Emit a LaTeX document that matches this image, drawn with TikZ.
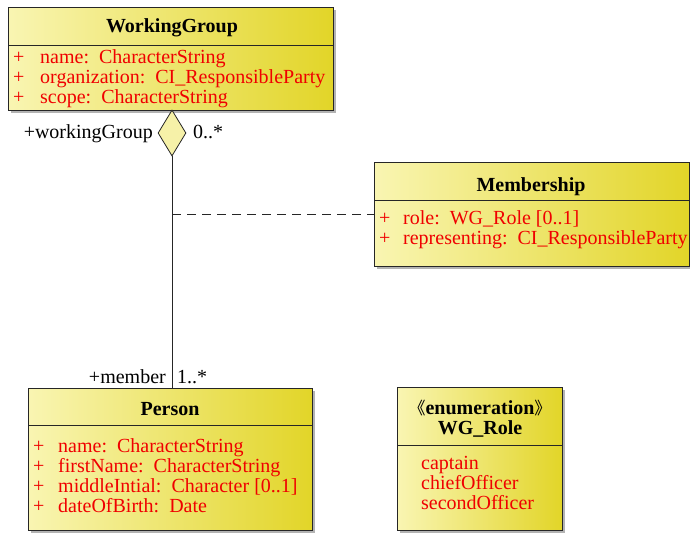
\documentclass[tikz,border=0pt]{standalone}
\usepackage{fontspec}
\setmainfont{Liberation Serif}
\newfontfamily\cjkfont{Noto Sans CJK SC}
\usetikzlibrary{shapes.geometric,shadows}
\definecolor{boxL}{RGB}{249,245,178}
\definecolor{boxR}{RGB}{226,213,40}
\definecolor{attrred}{RGB}{240,0,0}
\definecolor{diafill}{RGB}{246,241,168}
\tikzset{
  classbox/.style={rectangle, draw=black!85, line width=0.9pt, inner sep=0pt,
    anchor=north west, left color=boxL, right color=boxR,
    drop shadow={shadow xshift=3pt, shadow yshift=-3pt, fill=black!50, opacity=0.6}},
  sepline/.style={draw=black!85, line width=0.9pt},
  classtitle/.style={font=\bfseries\fontsize{20}{20}\selectfont, inner sep=0pt, anchor=base},
  attr/.style={text=attrred, font=\fontsize{20}{20}\selectfont, inner sep=0pt, anchor=base west},
  rolename/.style={font=\fontsize{20}{20}\selectfont, inner sep=0pt},
  link/.style={draw=black!85, line width=0.8pt},
}
\begin{document}
\begin{tikzpicture}[x=1pt, y=-1pt]
\useasboundingbox (0,0) rectangle (690,533);

% ---- WorkingGroup ----
\node[classbox, minimum width=325pt, minimum height=103pt] (wg) at (8,7) {};
\draw[sepline] (wg.west |- 0,45) -- (wg.east |- 0,45);
\node[classtitle] (wgt) at (172,32) {WorkingGroup};
\node[attr] (wgp1) at (13,63) {+};
\node[attr] (wga1) at (40,63) {name:\ \ CharacterString};
\node[attr] (wgp2) at (13,83) {+};
\node[attr] (wga2) at (40,83) {organization:\ \ CI\_ResponsibleParty};
\node[attr] (wgp3) at (13,103) {+};
\node[attr] (wga3) at (40,103) {scope:\ \ CharacterString};

% ---- Membership ----
\node[classbox, minimum width=315pt, minimum height=104pt] (mem) at (374,162) {};
\draw[sepline] (mem.west |- 0,200) -- (mem.east |- 0,200);
\node[classtitle] (memt) at (531,191) {Membership};
\node[attr] (memp1) at (379,224) {+};
\node[attr] (mema1) at (403,224) {role:\ \ WG\_Role [0..1]};
\node[attr] (memp2) at (379,244) {+};
\node[attr] (mema2) at (403,244) {representing:\ \ CI\_ResponsibleParty};

% ---- Person ----
\node[classbox, minimum width=284pt, minimum height=142pt] (person) at (28,388) {};
\draw[sepline] (person.west |- 0,425) -- (person.east |- 0,425);
\node[classtitle] (pt) at (170,415) {Person};
\node[attr] (pp1) at (33,452) {+};
\node[attr] (pa1) at (58,452) {name:\ \ CharacterString};
\node[attr] (pp2) at (33,472) {+};
\node[attr] (pa2) at (58,472) {firstName:\ \ CharacterString};
\node[attr] (pp3) at (33,492) {+};
\node[attr] (pa3) at (58,492) {middleIntial:\ \ Character [0..1]};
\node[attr] (pp4) at (33,512) {+};
\node[attr] (pa4) at (58,512) {dateOfBirth:\ \ Date};

% ---- WG_Role enumeration ----
\node[classbox, minimum width=165pt, minimum height=143pt] (role) at (397,387) {};
\draw[sepline] (role.west |- 0,445) -- (role.east |- 0,445);
\node[classtitle] (rst) at (480,414) {{\cjkfont\mdseries\fontsize{17}{17}\selectfont 《}enumeration{\cjkfont\mdseries\fontsize{17}{17}\selectfont 》}};
\node[classtitle] (rt) at (480,434) {WG\_Role};
\node[attr] (rv1) at (421,469) {captain};
\node[attr] (rv2) at (421,489) {chiefOfficer};
\node[attr] (rv3) at (421,509) {secondOfficer};

% ---- aggregation WorkingGroup <>-- Person ----
\node[diamond, draw=black!85, line width=0.8pt, fill=diafill, inner sep=0pt,
      minimum width=28pt, minimum height=46pt] (dia) at (172,133) {};
\draw[link] (dia.south) -- (dia.south |- person.north);
\node[rolename, anchor=base east] (rwg) at (153,138) {+workingGroup};
\node[rolename, anchor=base west] (mwg) at (193,138) {0..*};
\node[rolename, anchor=base east] (rmem) at (166,383) {+member};
\node[rolename, anchor=base west] (mmem) at (177,383) {1..*};

% ---- association class link ----
\coordinate (assoc) at (172,214);
\draw[link, dash pattern=on 9pt off 6pt] (assoc) -- (assoc -| mem.west);
\end{tikzpicture}
\end{document}
